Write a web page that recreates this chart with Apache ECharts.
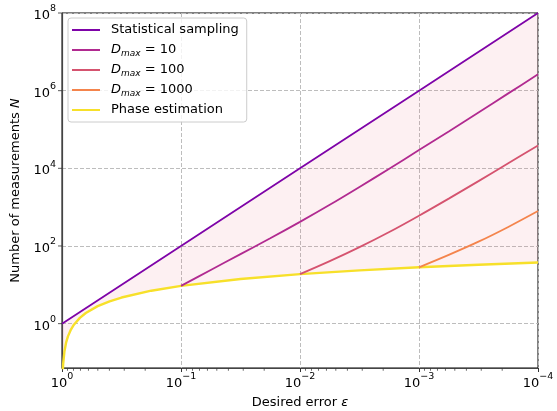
<!DOCTYPE html>
<html>
<head>
<meta charset="utf-8">
<script src="https://cdn.jsdelivr.net/npm/echarts@6/dist/echarts.min.js"></script>
<style>
html,body{margin:0;padding:0;background:#fff;}
#chart{width:557px;height:411px;}
</style>
</head>
<body>
<div id="chart"></div>
<script>
// ---- data ----
const statEps = [1, 0.1, 0.01, 0.001, 0.0001];
const statN   = [1, 100, 10000, 1000000, 100000000];

const d10Eps = [0.1, 0.05623, 0.03162, 0.01778, 0.01, 0.005623, 0.003162, 0.001778, 0.001, 0.0005623, 0.0003162, 0.0001778, 0.0001];
const d10N   = [9.4, 24, 61.7, 158, 417, 1148, 3311, 9772, 29500, 89100, 275000, 851000, 2630000];

const d100Eps = [0.01, 0.005623, 0.003162, 0.001778, 0.001, 0.0005623, 0.0003162, 0.0001778, 0.0001];
const d100N   = [18.8, 40.7, 93.3, 229, 603, 1660, 4680, 13500, 38900];

const d1000Eps = [0.001, 0.0005623, 0.0003162, 0.0001778, 0.0001];
const d1000N   = [28.2, 58.9, 129, 309, 794];

const phaseEps = [0.98855, 0.97724, 0.95499, 0.92257, 0.89125, 0.8414, 0.79433, 0.70795, 0.63096, 0.50119, 0.39811, 0.31623, 0.17783, 0.1, 0.031623, 0.01, 0.0031623, 0.001, 0.00031623, 0.0001];
const phaseN   = [0.047, 0.094, 0.188, 0.33, 0.47, 0.705, 0.94, 1.41, 1.88, 2.82, 3.76, 4.7, 7.05, 9.4, 14.1, 18.8, 23.5, 28.2, 32.9, 37.6];

const seriesNames = ['Statistical sampling', 'D10', 'D100', 'D1000', 'Phase estimation'];
const legendLabels = {
  'Statistical sampling': 'Statistical sampling',
  'D10': '{it|D}{sub|max}{t| = 10}',
  'D100': '{it|D}{sub|max}{t| = 100}',
  'D1000': '{it|D}{sub|max}{t| = 1000}',
  'Phase estimation': 'Phase estimation'
};
const colors = ['#7e03a8', '#b12a90', '#d5536f', '#f4844c', '#f7e02a'];

const xMin = 0.0001, xMax = 1;
const yMin = 0.072, yMax = 100000000;
const yMajorTicks = [1, 100, 10000, 1000000, 100000000];
const minorMantissas = [2, 3, 4, 5, 6, 7, 8, 9];
const minorDecades = [0.0001, 0.001, 0.01, 0.1];

// ---- build ----
const zip = (a, b) => a.map((v, i) => [v, b[i]]);
const minorTicks = [];
minorDecades.forEach(d => minorMantissas.forEach(m => minorTicks.push([m * d, yMin])));

const FONT = 'DejaVu Sans';
function powText(e) {
  return '{b|10}{s|' + (e < 0 ? '\u2212' + (-e) : e) + '}';
}
function xLabel(v) { return powText(Math.round(Math.log10(v))); }
function yLabel(v) {
  const l = Math.log10(v);
  const e = Math.round(l);
  if (Math.abs(l - e) > 1e-6 || e % 2 !== 0) return '';
  return powText(e);
}
const powRich = {
  b: { fontFamily: FONT, fontSize: 13, color: '#000', lineHeight: 18, verticalAlign: 'bottom' },
  s: { fontFamily: FONT, fontSize: 9.5, color: '#000', lineHeight: 18, verticalAlign: 'top' }
};

const polyData = zip(statEps, statN).concat(zip(phaseEps, phaseN).reverse());

const chart = echarts.init(document.getElementById('chart'), null, { renderer: 'canvas' });
const lineSeries = [
  [statEps, statN, 1.8],
  [d10Eps, d10N, 1.8],
  [d100Eps, d100N, 1.8],
  [d1000Eps, d1000N, 1.8],
  [phaseEps, phaseN, 2.4]
].map((s, i) => ({
  name: seriesNames[i],
  type: 'line',
  data: zip(s[0], s[1]),
  showSymbol: false,
  smooth: i > 0 && i < 4 ? 0.3 : false,
  lineStyle: { color: colors[i], width: s[2] },
  itemStyle: { color: colors[i] },
  z: 3 + (4 - i) * 0.01,
  animation: false
}));

const gridColor = '#bdbdbd';
const option = {
  animation: false,
  backgroundColor: '#fff',
  grid: { left: 62, right: 19, top: 13, bottom: 43, outerBoundsMode: 'none', containLabel: false,
          show: true, borderColor: '#000', borderWidth: 1, backgroundColor: 'transparent' },
  legend: {
    data: seriesNames,
    orient: 'vertical',
    left: 68, top: 18,
    padding: [4, 8, 4, 4],
    itemGap: 4,
    itemWidth: 28, itemHeight: 2,
    icon: 'rect',
    backgroundColor: 'rgba(255,255,255,0.8)',
    borderColor: '#cccccc', borderWidth: 1, borderRadius: 3,
    formatter: n => legendLabels[n],
    textStyle: {
      fontFamily: FONT, fontSize: 13, color: '#000', lineHeight: 16, padding: [0, 0, 0, 6],
      rich: {
        it: { fontFamily: FONT, fontSize: 13, fontStyle: 'italic', color: '#000', lineHeight: 16 },
        sub: { fontFamily: FONT, fontSize: 9, fontStyle: 'italic', color: '#000', lineHeight: 16, verticalAlign: 'bottom', padding: [5, 0, 0, 0] },
        t: { fontFamily: FONT, fontSize: 13, color: '#000', lineHeight: 16 }
      }
    }
  },
  xAxis: {
    type: 'log', logBase: 10, min: xMin, max: xMax, inverse: true,
    name: 'Desired error {i|\u03b5}', nameLocation: 'middle', nameGap: 28,
    nameTextStyle: { fontFamily: FONT, fontSize: 13, color: '#000',
      rich: { i: { fontFamily: FONT, fontSize: 13, fontStyle: 'italic', color: '#000' } } },
    axisLine: { show: true, lineStyle: { color: '#444', width: 1.2 } },
    axisTick: { show: true, inside: false, length: 4, lineStyle: { color: '#333', width: 1 } },
    axisLabel: { formatter: xLabel, rich: powRich, margin: 4 },
    splitLine: { show: true, lineStyle: { color: gridColor, type: [4, 2], width: 1 } },
    minorTick: { show: false }
  },
  yAxis: {
    type: 'log', logBase: 10, min: yMin, max: yMax, splitNumber: 5,
    name: 'Number of measurements {i|N}', nameLocation: 'middle', nameGap: 32,
    nameTextStyle: { fontFamily: FONT, fontSize: 13, color: '#000',
      rich: { i: { fontFamily: FONT, fontSize: 13, fontStyle: 'italic', color: '#000' } } },
    axisLine: { show: true, lineStyle: { color: '#444', width: 1.2 } },
    axisTick: { show: false },
    axisLabel: { formatter: yLabel, rich: powRich, margin: 6, showMinLabel: false },
    splitLine: { show: true, lineStyle: { color: [gridColor, 'rgba(0,0,0,0)'], type: [4, 2], width: 1 } }
  },
  series: [
    {
      type: 'custom',
      name: 'fill',
      clip: true,
      silent: true,
      z: 1,
      data: [[statEps[0], statN[0]]],
      renderItem: function (params, api) {
        const pts = polyData.map(p => api.coord(p));
        return { type: 'polygon', shape: { points: pts }, style: { fill: 'rgba(235,90,110,0.09)', stroke: null } };
      }
    }
  ].concat(lineSeries).concat([
    {
      type: 'scatter',
      name: 'minor',
      data: minorTicks,
      symbol: 'rect',
      symbolSize: [0.9, 2.5],
      symbolOffset: [0, 1.5],
      itemStyle: { color: '#333' },
      silent: true,
      clip: false,
      z: 10
    },
    {
      type: 'scatter',
      name: 'yticks',
      data: yMajorTicks.map(v => [xMax, v]),
      symbol: 'rect',
      symbolSize: [4, 1],
      symbolOffset: [-2, 0],
      itemStyle: { color: '#333' },
      silent: true,
      clip: false,
      z: 10
    }
  ])
};
chart.setOption(option);
</script>
</body>
</html>
